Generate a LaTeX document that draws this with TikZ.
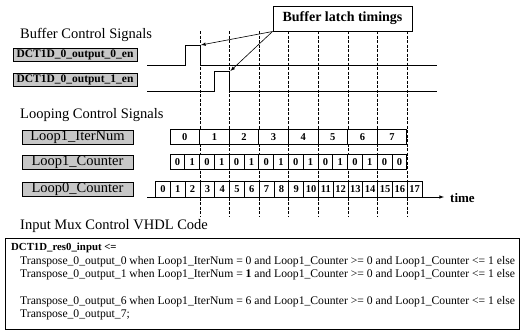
\documentclass[tikz,border=0pt]{standalone}
\usepackage{fontspec}
\setmainfont{Liberation Serif}
\newcommand{\headfont}{\rmfamily\fontsize{14.5}{16}\selectfont}
\newcommand{\cellfont}{\rmfamily\fontsize{10.5}{11}\selectfont\bfseries}
\newcommand{\codefont}{\rmfamily\fontsize{11.65}{13}\selectfont}

\begin{document}
\begin{tikzpicture}[
  x=1pt, y=-1pt,
  head/.style={anchor=west,inner sep=0pt,font=\headfont},
  sigbox/.style={rectangle,draw,line width=1pt,fill=black!22,minimum width=124pt,minimum height=13pt,inner sep=0pt,font=\rmfamily\fontsize{11.5}{12}\selectfont\bfseries},
  loopbox/.style={rectangle,draw,line width=1pt,fill=black!22,minimum width=111pt,minimum height=14pt,inner sep=0pt,font=\headfont},
  cell/.style={rectangle,draw,line width=0.8pt,fill=white,minimum width=14.8pt,minimum height=15pt,inner sep=0pt,font=\cellfont},
  wide/.style={cell,minimum width=29.6pt},
  wave/.style={line width=0.9pt},
  guide/.style={line width=0.8pt,dash pattern=on 3pt off 1.5pt},
  pointer/.style={-latex,line width=0.6pt},
  codeline/.style={anchor=west,inner sep=0pt,font=\codefont}
]
\useasboundingbox (0,0) rectangle (522,332);

% ===== CALLOUT AND TIME GUIDES =====
\node[draw,line width=1pt,minimum width=139pt,minimum height=25pt,font=\rmfamily\fontsize{14}{15}\selectfont\bfseries] (latch) at (342.5,18.5) {Buffer latch timings};

\draw[guide] (200,31) -- (200,216);
\draw[guide] (229.6,31) -- (229.6,216);
\draw[guide] (259.2,31) -- (259.2,216);
\draw[guide] (288.8,31) -- (288.8,216);
\draw[guide] (318.4,31) -- (318.4,216);
\draw[guide] (348,31) -- (348,216);
\draw[guide] (377.6,31) -- (377.6,216);
\draw[guide] (407.2,31) -- (407.2,216);

% ===== BUFFER CONTROL SIGNALS =====
\node[head] (bufhead) at (20,35) {Buffer Control Signals};

\node[sigbox] (en0) at (75,55) {DCT1D\_0\_output\_0\_en};
\draw[wave] (147,65) -- (185.2,65) -- (185.2,45) -- (200,45) -- (200,65) -- (437,65);
\coordinate (latch0) at (201,45);

\node[sigbox] (en1) at (75,80) {DCT1D\_0\_output\_1\_en};
\draw[wave] (147,91) -- (214.8,91) -- (214.8,71) -- (229.6,71) -- (229.6,91) -- (437,91);
\coordinate (latch1) at (230.4,71);

% Latch pointers
\draw[pointer] (latch.south west) -- (latch0);
\draw[pointer] (latch.south west) -- (latch1);

% ===== LOOPING CONTROL SIGNALS =====
\node[head] (loophead) at (20,115) {Looping Control Signals};

\node[loopbox] (iter) at (77.5,137) {Loop1\_IterNum};
\node[loopbox] (cnt1) at (77.5,162) {Loop1\_Counter};
\node[loopbox] (cnt0) at (77.5,189) {Loop0\_Counter};

% Time axis
\coordinate (t0) at (147,197);
\coordinate (t1) at (444,197);
\draw[pointer] (t0) -- (t1);
\node[anchor=west,inner sep=0pt,font=\rmfamily\fontsize{13}{14}\selectfont\bfseries] (time) at (450,198) {time};

% Loop1 iteration number
\node[wide] (it0) at (184.8,137) {0};
\node[wide] (it1) at (214.4,137) {1};
\node[wide] (it2) at (244,137) {2};
\node[wide] (it3) at (273.6,137) {3};
\node[wide] (it4) at (303.2,137) {4};
\node[wide] (it5) at (332.8,137) {5};
\node[wide] (it6) at (362.4,137) {6};
\node[wide] (it7) at (392,137) {7};

% Loop1 counter
\node[cell] (ca0) at (177.4,162) {0};
\node[cell] (ca1) at (192.2,162) {1};
\node[cell] (ca2) at (207,162) {0};
\node[cell] (ca3) at (221.8,162) {1};
\node[cell] (ca4) at (236.6,162) {0};
\node[cell] (ca5) at (251.4,162) {1};
\node[cell] (ca6) at (266.2,162) {0};
\node[cell] (ca7) at (281,162) {1};
\node[cell] (ca8) at (295.8,162) {0};
\node[cell] (ca9) at (310.6,162) {1};
\node[cell] (ca10) at (325.4,162) {0};
\node[cell] (ca11) at (340.2,162) {1};
\node[cell] (ca12) at (355,162) {0};
\node[cell] (ca13) at (369.8,162) {1};
\node[cell] (ca14) at (384.6,162) {0};
\node[cell] (ca15) at (399.4,162) {0};

% Loop0 counter
\node[cell,minimum height=16pt] (cb0) at (163,189) {0};
\node[cell,minimum height=16pt] (cb1) at (177.8,189) {1};
\node[cell,minimum height=16pt] (cb2) at (192.6,189) {2};
\node[cell,minimum height=16pt] (cb3) at (207.4,189) {3};
\node[cell,minimum height=16pt] (cb4) at (222.2,189) {4};
\node[cell,minimum height=16pt] (cb5) at (237,189) {5};
\node[cell,minimum height=16pt] (cb6) at (251.8,189) {6};
\node[cell,minimum height=16pt] (cb7) at (266.6,189) {7};
\node[cell,minimum height=16pt] (cb8) at (281.4,189) {8};
\node[cell,minimum height=16pt] (cb9) at (296.2,189) {9};
\node[cell,minimum height=16pt] (cb10) at (311,189) {10};
\node[cell,minimum height=16pt] (cb11) at (325.8,189) {11};
\node[cell,minimum height=16pt] (cb12) at (340.6,189) {12};
\node[cell,minimum height=16pt] (cb13) at (355.4,189) {13};
\node[cell,minimum height=16pt] (cb14) at (370.2,189) {14};
\node[cell,minimum height=16pt] (cb15) at (385,189) {15};
\node[cell,minimum height=16pt] (cb16) at (399.8,189) {16};
\node[cell,minimum height=16pt] (cb17) at (414.6,189) {17};

% ===== INPUT MUX CODE =====
\node[head] (muxhead) at (20,226) {Input Mux Control VHDL Code};

\node[draw,line width=0.8pt,anchor=north west,minimum width=514pt,minimum height=91pt,inner sep=0pt] (code) at (5,238) {};
\node[codeline,font=\rmfamily\fontsize{10.8}{12}\selectfont\bfseries] (c0) at (11,248) {DCT1D\_res0\_input <=};
\node[codeline] (c1) at (20,262) {Transpose\_0\_output\_0 when Loop1\_IterNum = 0 and Loop1\_Counter >= 0 and Loop1\_Counter <= 1 else};
\node[codeline] (c2) at (20,275) {Transpose\_0\_output\_1 when Loop1\_IterNum = \textbf{1} and Loop1\_Counter >= 0 and Loop1\_Counter <= 1 else};
\node[codeline] (c3) at (20,302) {Transpose\_0\_output\_6 when Loop1\_IterNum = 6 and Loop1\_Counter >= 0 and Loop1\_Counter <= 1 else};
\node[codeline] (c4) at (20,315) {Transpose\_0\_output\_7;};

\end{tikzpicture}
\end{document}
